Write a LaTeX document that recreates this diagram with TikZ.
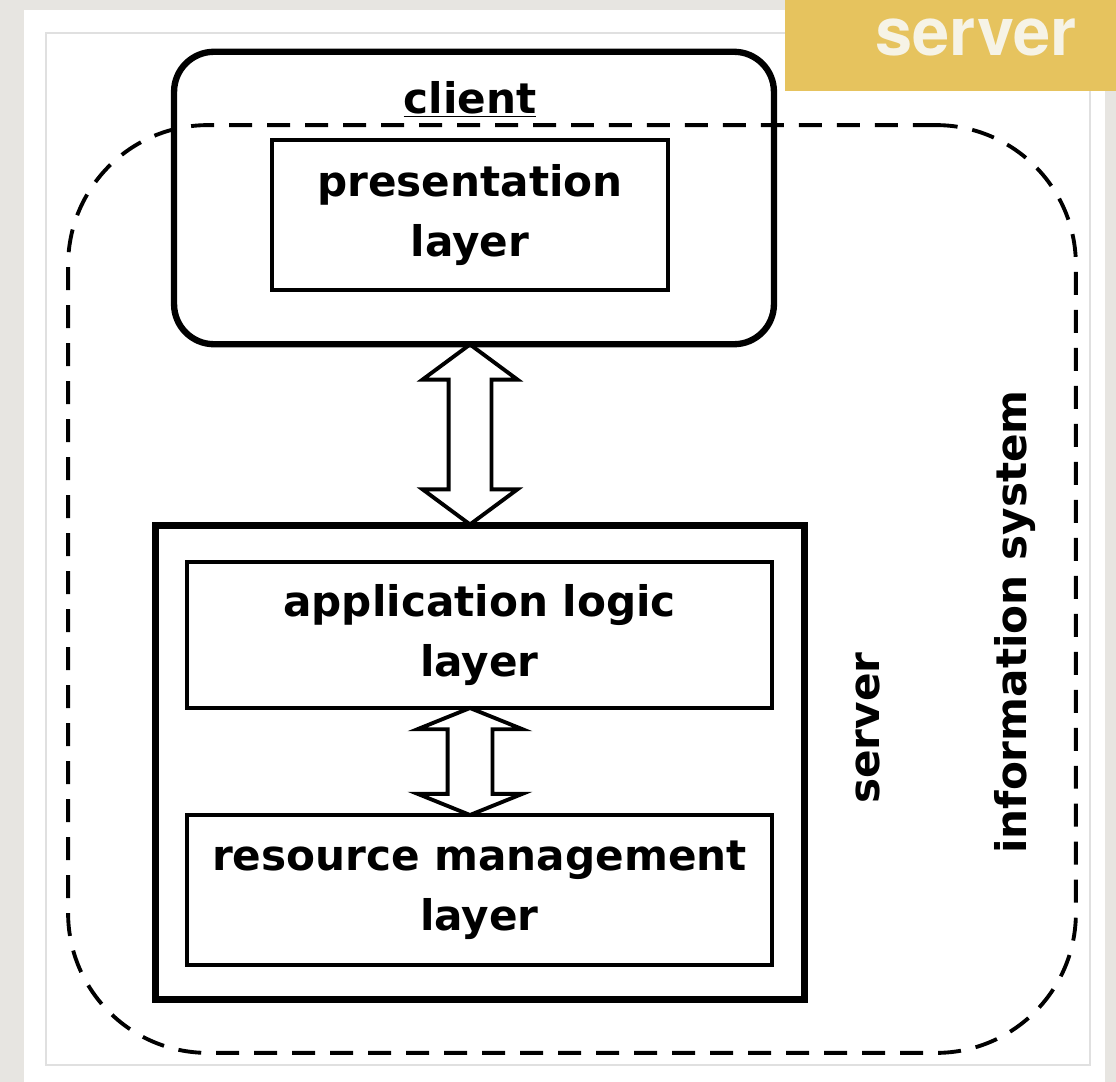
\documentclass[tikz,border=0pt]{standalone}
\usepackage{fontspec}
\setmainfont{DejaVu Sans}
\newfontfamily\tagfont{TeX Gyre Heros}
\usepackage{tikz}
\usetikzlibrary{positioning,calc,shapes.arrows}
\definecolor{paper}{HTML}{E7E5E1}
\definecolor{tabgold}{HTML}{E6C35E}
\definecolor{tabtext}{HTML}{F6F3E6}
\definecolor{rim}{HTML}{E0E0E0}

\begin{document}
\begin{tikzpicture}[x=0.02cm, y=-0.02cm,
    every node/.style={font=\fontsize{24}{34}\selectfont\bfseries},
    layer/.style={draw, line width=2.4pt, minimum width=11.7cm,
                  minimum height=3cm, align=center, inner sep=0pt},
    clientbox/.style={draw, line width=3.6pt, rounded corners=0.8cm,
                      minimum width=12.0cm, minimum height=5.85cm},
    serverbox/.style={draw, line width=4pt, minimum width=13cm,
                      minimum height=9.5cm},
    infosys/.style={draw, line width=2.2pt, rounded corners=2.8cm,
                    dash pattern=on 0.46cm off 0.3cm,
                    minimum width=20.16cm, minimum height=18.56cm},
    duplex/.style={double arrow, draw, line width=2.2pt,
                   shape border rotate=90, double arrow head indent=0pt},
    sidelabel/.style={rotate=90},
    tablabel/.style={text=tabtext, font=\tagfont\bfseries\fontsize{38}{42}\selectfont}]
  % page
  \fill[paper] (0,0) rectangle (1116,1082);
  \fill[white] (24,10) rectangle (1105,1082);
  \draw[rim, line width=0.6pt] (46,33) rectangle (1090,1065);
  \fill[tabgold] (785,0) rectangle (1116,91);
  \node[tablabel, anchor=base] (tag) at (976,55) {server};

  % boxes
  \node[clientbox]          (client) at (474,198) {};
  \node[anchor=base]        (cltlbl) at (470,113) {\underline{client}};
  \node[layer, minimum width=7.92cm] (pres) at (470,215) {presentation\\layer};
  \node[serverbox]          (server) at (480,762.5)   {};
  \node[layer, minimum height=2.92cm] (app) at (479.5,635) {application logic\\layer};
  \node[layer]              (res)    at (479.5,890)   {resource management\\layer};
  \node[infosys]            (infsys) at (572,589)     {};
  \node[sidelabel]          (srvlbl) at (868,728)     {server};
  \node[sidelabel]          (islbl)  at (1015,622)    {information system};

  % arrows
  \node[duplex, inner sep=0.39cm, minimum width=1.82cm, minimum height=3.6cm,
        double arrow head extend=0.52cm, double arrow tip angle=107]
        (a1) at ($(pres.south |- client.south)!.5!(pres.south |- server.north)$) {};
  \node[duplex, inner sep=0.41cm, minimum width=2.02cm, minimum height=2.14cm,
        double arrow head extend=0.6cm, double arrow tip angle=136]
        (a2) at ($(pres.south |- app.south)!.5!(pres.south |- res.north)$) {};
\end{tikzpicture}
\end{document}
